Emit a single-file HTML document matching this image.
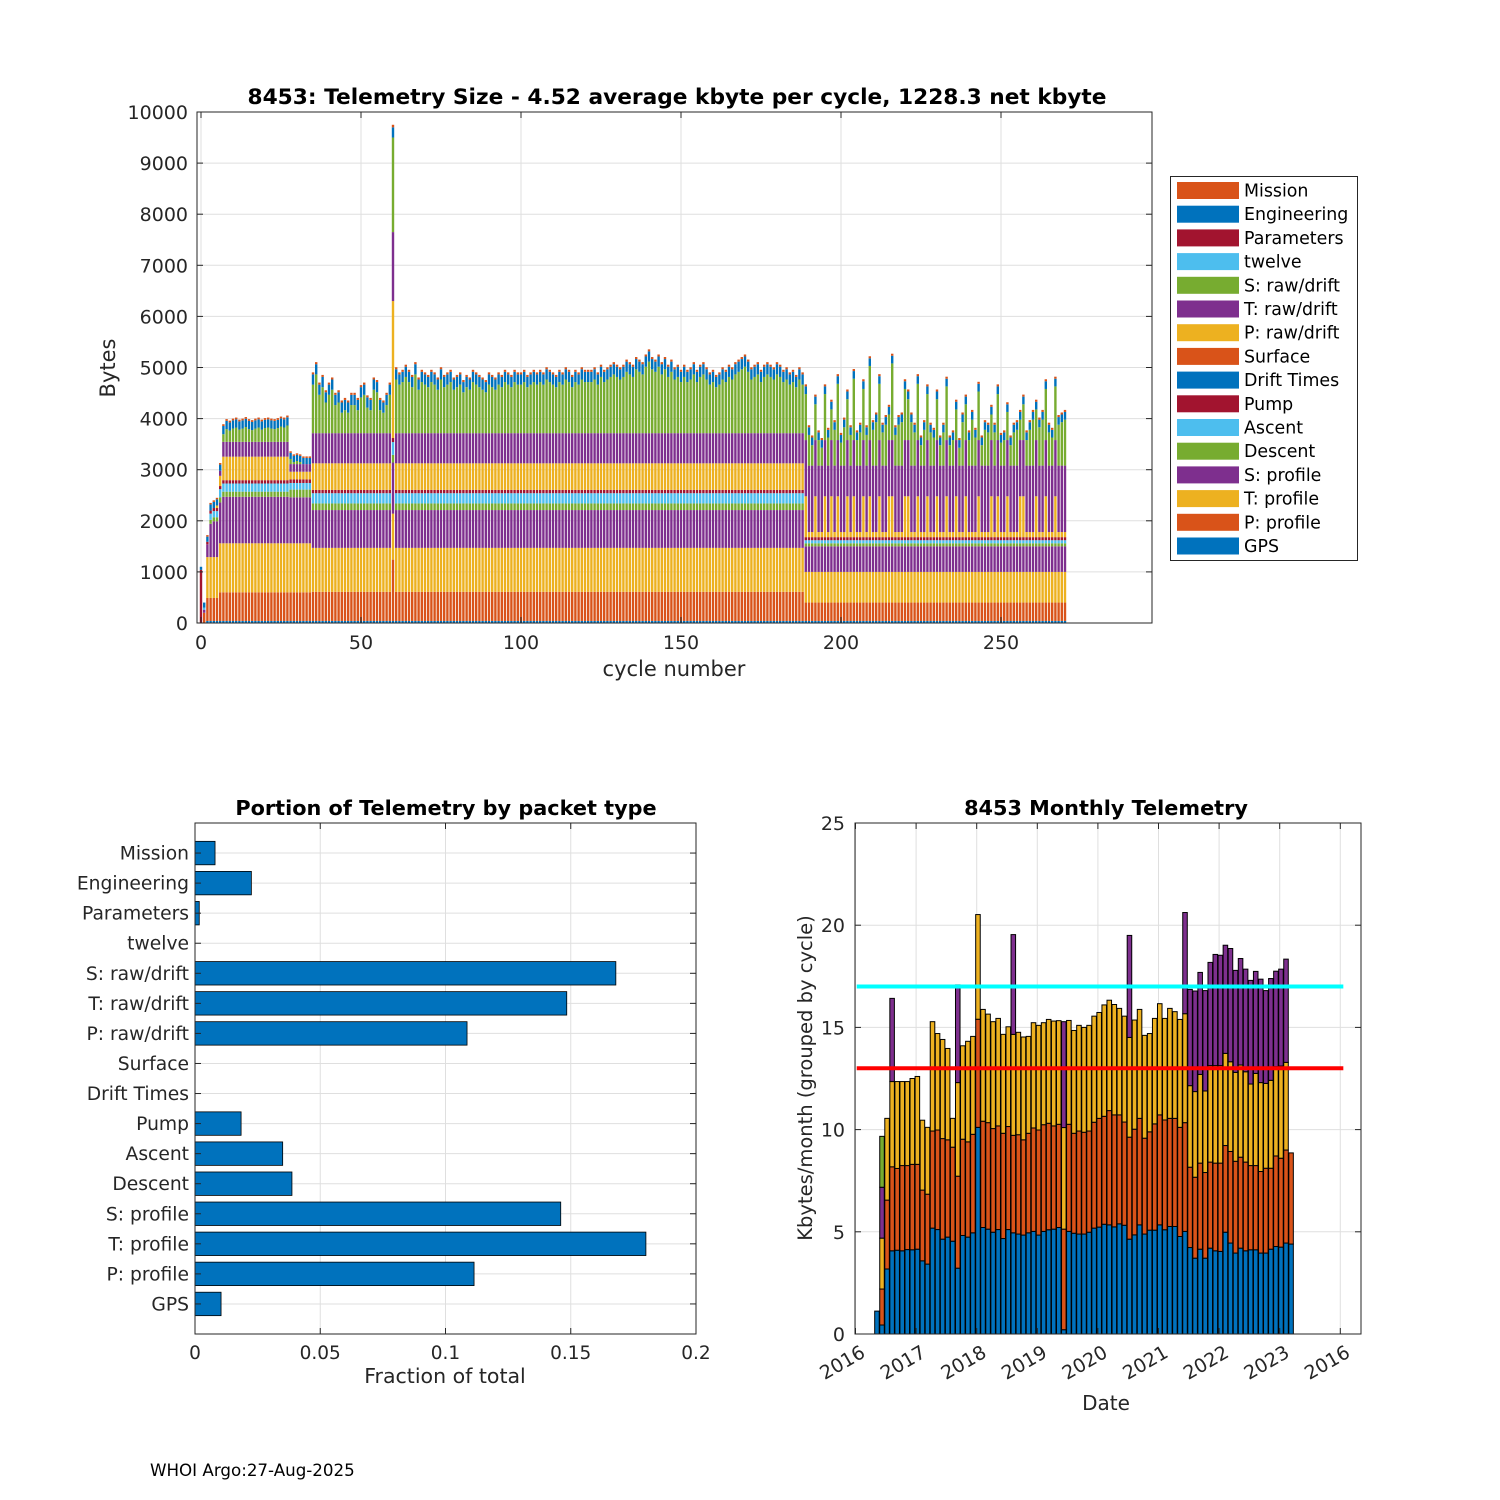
<!DOCTYPE html>
<html><head><meta charset="utf-8"><style>
html,body{margin:0;padding:0;background:#fff;}
svg{display:block;font-family:"DejaVu Sans","Liberation Sans",sans-serif;}
</style></head><body>
<svg id="fig" width="1500" height="1500" viewBox="0 0 1500 1500" xmlns="http://www.w3.org/2000/svg">
<rect width="1500" height="1500" fill="#fff"/>
<g id="top"></g>
<g id="legend"></g>
<g id="bl"></g>
<g id="br"></g>
<text x="150" y="1476" font-size="16.7" fill="#000">WHOI Argo:27-Aug-2025</text>
</svg>
<script>
// ===== Top chart data (bytes per cycle, one entry per cycle starting at 0) =====
const seriesNames = ["GPS","P: profile","T: profile","S: profile","Descent","Ascent","Pump","Drift Times","Surface","P: raw/drift","T: raw/drift","S: raw/drift","twelve","Parameters","Engineering","Mission"];
const gps = [0,0,40,40,40,40,40,
40,40,40,40,40,40,40,40,40,40, 40,40,40,40,40,40,40,40,40,40, 40,
40,40,40,40,40,40,40,
40,40,40,40,40,40,40,40,40,40, 40,40,40,40,40,40,40,40,40,40, 40,40,40,40,40,
40,
40,40,40,40,40,40,40,40,40,40, 40,40,40,40,40,40,40,40,40,40, 40,40,40,40,40,40,40,40,40,40, 40,40,40,40,40,40,40,40,40,40,
40,40,40,40,40,40,40,40,40,40, 40,40,40,40,40,40,40,40,40,40, 40,40,40,40,40,40,40,40,40,40, 40,40,40,40,40,40,40,40,40,40,
40,40,40,40,40,40,40,40,40,40, 40,40,40,40,40,40,40,40,40,40, 40,40,40,40,40,40,40,40,40,40, 40,40,40,40,40,40,40,40,40,40,
40,40,40,40,40,40,40,40,
40,40,40,40,40,40,40,40,40,40, 40,40,40,40,40,40,40,40,40,40, 40,40,40,40,40,40,40,40,40,40, 40,40,40,40,40,40,40,40,40,40,
40,40,40,40,40,40,40,40,40,40, 40,40,40,40,40,40,40,40,40,40, 40,40,40,40,40,40,40,40,40,40, 40,40,40,40,40,40,40,40,40,40, 40,40];
const pProfile = [0,200,450,450,450,450,560,
560,560,560,560,560,560,560,560,560,560, 560,560,560,560,560,560,560,560,560,560, 560,
560,560,560,560,560,560,560,
570,570,570,570,570,570,570,570,570,570, 570,570,570,570,570,570,570,570,570,570, 570,570,570,570,570,
1200,
570,570,570,570,570,570,570,570,570,570, 570,570,570,570,570,570,570,570,570,570, 570,570,570,570,570,570,570,570,570,570, 570,570,570,570,570,570,570,570,570,570,
570,570,570,570,570,570,570,570,570,570, 570,570,570,570,570,570,570,570,570,570, 570,570,570,570,570,570,570,570,570,570, 570,570,570,570,570,570,570,570,570,570,
570,570,570,570,570,570,570,570,570,570, 570,570,570,570,570,570,570,570,570,570, 570,570,570,570,570,570,570,570,570,570, 570,570,570,570,570,570,570,570,570,570,
570,570,570,570,570,570,570,570,
360,360,360,360,360,360,360,360,360,360, 360,360,360,360,360,360,360,360,360,360, 360,360,360,360,360,360,360,360,360,360, 360,360,360,360,360,360,360,360,360,360,
360,360,360,360,360,360,360,360,360,360, 360,360,360,360,360,360,360,360,360,360, 360,360,360,360,360,360,360,360,360,360, 360,360,360,360,360,360,360,360,360,360, 360,360];
const tProfile = [0,0,800,800,800,800,960,
960,960,960,960,960,960,960,960,960,960, 960,960,960,960,960,960,960,960,960,960, 960,
960,960,960,960,960,960,960,
860,860,860,860,860,860,860,860,860,860, 860,860,860,860,860,860,860,860,860,860, 860,860,860,860,860,
900,
860,860,860,860,860,860,860,860,860,860, 860,860,860,860,860,860,860,860,860,860, 860,860,860,860,860,860,860,860,860,860, 860,860,860,860,860,860,860,860,860,860,
860,860,860,860,860,860,860,860,860,860, 860,860,860,860,860,860,860,860,860,860, 860,860,860,860,860,860,860,860,860,860, 860,860,860,860,860,860,860,860,860,860,
860,860,860,860,860,860,860,860,860,860, 860,860,860,860,860,860,860,860,860,860, 860,860,860,860,860,860,860,860,860,860, 860,860,860,860,860,860,860,860,860,860,
860,860,860,860,860,860,860,860,
600,600,600,600,600,600,600,600,600,600, 600,600,600,600,600,600,600,600,600,600, 600,600,600,600,600,600,600,600,600,600, 600,600,600,600,600,600,600,600,600,600,
600,600,600,600,600,600,600,600,600,600, 600,600,600,600,600,600,600,600,600,600, 600,600,600,600,600,600,600,600,600,600, 600,600,600,600,600,600,600,600,600,600, 600,600];
const sProfile = [0,60,250,650,700,700,800,
910,910,910,910,910,910,910,910,910,910, 910,910,910,910,910,910,910,910,910,910, 910,
900,900,900,900,900,900,900,
740,740,740,740,740,740,740,740,740,740, 740,740,740,740,740,740,740,740,740,740, 740,740,740,740,740,
1000,
740,740,740,740,740,740,740,740,740,740, 740,740,740,740,740,740,740,740,740,740, 740,740,740,740,740,740,740,740,740,740, 740,740,740,740,740,740,740,740,740,740,
740,740,740,740,740,740,740,740,740,740, 740,740,740,740,740,740,740,740,740,740, 740,740,740,740,740,740,740,740,740,740, 740,740,740,740,740,740,740,740,740,740,
740,740,740,740,740,740,740,740,740,740, 740,740,740,740,740,740,740,740,740,740, 740,740,740,740,740,740,740,740,740,740, 740,740,740,740,740,740,740,740,740,740,
740,740,740,740,740,740,740,740,
500,500,500,500,500,500,500,500,500,500, 500,500,500,500,500,500,500,500,500,500, 500,500,500,500,500,500,500,500,500,500, 500,500,500,500,500,500,500,500,500,500,
500,500,500,500,500,500,500,500,500,500, 500,500,500,500,500,500,500,500,500,500, 500,500,500,500,500,500,500,500,500,500, 500,500,500,500,500,500,500,500,500,500, 500,500];
const descent = [0,0,0,80,80,80,100,
100,100,100,100,100,100,100,100,100,100, 100,100,100,100,100,100,100,100,100,100, 100,
150,150,150,150,150,150,150,
130,130,130,130,130,130,130,130,130,130, 130,130,130,130,130,130,130,130,130,130, 130,130,130,130,130,
150,
130,130,130,130,130,130,130,130,130,130, 130,130,130,130,130,130,130,130,130,130, 130,130,130,130,130,130,130,130,130,130, 130,130,130,130,130,130,130,130,130,130,
130,130,130,130,130,130,130,130,130,130, 130,130,130,130,130,130,130,130,130,130, 130,130,130,130,130,130,130,130,130,130, 130,130,130,130,130,130,130,130,130,130,
130,130,130,130,130,130,130,130,130,130, 130,130,130,130,130,130,130,130,130,130, 130,130,130,130,130,130,130,130,130,130, 130,130,130,130,130,130,130,130,130,130,
130,130,130,130,130,130,130,130,
60,60,60,60,60,60,60,60,60,60, 60,60,60,60,60,60,60,60,60,60, 60,60,60,60,60,60,60,60,60,60, 60,60,60,60,60,60,60,60,60,60,
60,60,60,60,60,60,60,60,60,60, 60,60,60,60,60,60,60,60,60,60, 60,60,60,60,60,60,60,60,60,60, 60,60,60,60,60,60,60,60,60,60, 60,60];
const ascent = [0,40,0,120,120,120,160,
160,160,160,160,160,160,160,160,160,160, 160,160,160,160,160,160,160,160,160,160, 160,
130,130,130,130,130,130,130,
200,200,200,200,200,200,200,200,200,200, 200,200,200,200,200,200,200,200,200,200, 200,200,200,200,200,
250,
200,200,200,200,200,200,200,200,200,200, 200,200,200,200,200,200,200,200,200,200, 200,200,200,200,200,200,200,200,200,200, 200,200,200,200,200,200,200,200,200,200,
200,200,200,200,200,200,200,200,200,200, 200,200,200,200,200,200,200,200,200,200, 200,200,200,200,200,200,200,200,200,200, 200,200,200,200,200,200,200,200,200,200,
200,200,200,200,200,200,200,200,200,200, 200,200,200,200,200,200,200,200,200,200, 200,200,200,200,200,200,200,200,200,200, 200,200,200,200,200,200,200,200,200,200,
200,200,200,200,200,200,200,200,
60,60,60,60,60,60,60,60,60,60, 60,60,60,60,60,60,60,60,60,60, 60,60,60,60,60,60,60,60,60,60, 60,60,60,60,60,60,60,60,60,60,
60,60,60,60,60,60,60,60,60,60, 60,60,60,60,60,60,60,60,60,60, 60,60,60,60,60,60,60,60,60,60, 60,60,60,60,60,60,60,60,60,60, 60,60];
const pump = [0,0,0,60,60,60,60,
65,65,65,65,65,65,65,65,65,65, 65,65,65,65,65,65,65,65,65,65, 65,
70,70,70,70,70,70,70,
65,65,65,65,65,65,65,65,65,65, 65,65,65,65,65,65,65,65,65,65, 65,65,65,65,65,
80,
65,65,65,65,65,65,65,65,65,65, 65,65,65,65,65,65,65,65,65,65, 65,65,65,65,65,65,65,65,65,65, 65,65,65,65,65,65,65,65,65,65,
65,65,65,65,65,65,65,65,65,65, 65,65,65,65,65,65,65,65,65,65, 65,65,65,65,65,65,65,65,65,65, 65,65,65,65,65,65,65,65,65,65,
65,65,65,65,65,65,65,65,65,65, 65,65,65,65,65,65,65,65,65,65, 65,65,65,65,65,65,65,65,65,65, 65,65,65,65,65,65,65,65,65,65,
65,65,65,65,65,65,65,65,
60,60,60,60,60,60,60,60,60,60, 60,60,60,60,60,60,60,60,60,60, 60,60,60,60,60,60,60,60,60,60, 60,60,60,60,60,60,60,60,60,60,
60,60,60,60,60,60,60,60,60,60, 60,60,60,60,60,60,60,60,60,60, 60,60,60,60,60,60,60,60,60,60, 60,60,60,60,60,60,60,60,60,60, 60,60];
const driftTimes = [];
const surface = [];
const pRaw = [0,0,0,0,0,50,200,
460,460,460,460,460,460,460,460,460,460, 460,460,460,460,460,460,460,460,460,460, 460,
150,150,150,150,150,150,150,
520,520,520,520,520,520,520,520,520,520, 520,520,520,520,520,520,520,520,520,520, 520,520,520,520,520,
2680,
520,520,520,520,520,520,520,520,520,520, 520,520,520,520,520,520,520,520,520,520, 520,520,520,520,520,520,520,520,520,520, 520,520,520,520,520,520,520,520,520,520,
520,520,520,520,520,520,520,520,520,520, 520,520,520,520,520,520,520,520,520,520, 520,520,520,520,520,520,520,520,520,520, 520,520,520,520,520,520,520,520,520,520,
520,520,520,520,520,520,520,520,520,520, 520,520,520,520,520,520,520,520,520,520, 520,520,520,520,520,520,520,520,520,520, 520,520,520,520,520,520,520,520,520,520,
520,520,520,520,520,520,520,520,
800,100,100,800,100,100,800,100,800,100, 800,100,100,800,100,800,100,100,800,100,
800,100,100,800,100,100,800,800,100,100, 100,800,800,100,100,800,100,100,800,100,
100,800,100,100,800,100,100,800,100,100, 800,100,100,100,800,100,100,100,800,100,
800,100,100,800,100,100,100,800,800,100, 100,100,800,100,100,800,100,100,800,100, 100,100];
const tRaw = [0,0,0,0,0,0,100,
290,290,290,290,290,290,290,290,290,290, 290,290,290,290,290,290,290,290,290,290, 290,
150,150,150,150,150,150,150,
590,590,590,590,590,590,590,590,590,590, 590,590,590,590,590,590,590,590,590,590, 590,590,590,590,590,
1350,
590,590,590,590,590,590,590,590,590,590, 590,590,590,590,590,590,590,590,590,590, 590,590,590,590,590,590,590,590,590,590, 590,590,590,590,590,590,590,590,590,590,
590,590,590,590,590,590,590,590,590,590, 590,590,590,590,590,590,590,590,590,590, 590,590,590,590,590,590,590,590,590,590, 590,590,590,590,590,590,590,590,590,590,
590,590,590,590,590,590,590,590,590,590, 590,590,590,590,590,590,590,590,590,590, 590,590,590,590,590,590,590,590,590,590, 590,590,590,590,590,590,590,590,590,590,
590,590,590,590,590,590,590,590,
1100,1300,1300,1100,1300,1300,1100,1300,1100,1300, 1100,1300,1300,1100,1300,1100,1300,1300,1100,1300,
1100,1300,1300,1100,1300,1300,1100,1100,1300,1300, 1300,1100,1100,1300,1300,1100,1300,1300,1100,1300,
1300,1100,1300,1300,1100,1300,1300,1100,1300,1300, 1100,1300,1300,1300,1100,1300,1300,1300,1100,1300,
1100,1300,1300,1100,1300,1300,1300,1100,1100,1300, 1300,1300,1100,1300,1300,1100,1300,1300,1100,1300, 1300,1300];
const sRaw = [0,0,0,0,0,0,0,
150,250,220,260,280,240,260,290,250,230, 260,280,240,270,280,260,250,270,300,280, 320,
100,40,60,40,0,0,0,
950,1150,750,900,600,750,850,550,600,400, 450,400,550,550,450,700,750,500,450,850, 800,450,400,550,750,
1850,
1050,950,1000,1100,1000,900,1150,850,1000,950, 900,1000,950,850,1050,900,950,1000,850,900,
950,800,900,850,1000,950,900,850,800,950, 900,850,950,900,1000,950,900,1000,950,950,
1000,900,950,1000,950,1000,950,1050,1000,950, 900,1000,950,1050,1000,900,1000,950,1050,1000,
1000,1000,1050,950,1100,1000,1050,1100,1150,1100, 1050,1100,1200,1150,1100,1250,1200,1150,1300,1400,
1250,1200,1300,1150,1250,1100,1200,1050,1100,1000, 1100,1000,1050,1150,1000,1100,1150,1050,950,1000,
900,950,1050,1000,1100,1050,1150,1200,1250,1300, 1200,1050,1100,1150,1000,1100,1150,1100,1050,1150,
1100,1000,1050,950,1000,900,1050,950,
900,600,400,700,500,350,900,550,600,700, 1100,450,750,800,600,1200,500,650,1000,600,
1450,700,850,1100,650,800,500,1500,600,800, 850,1000,800,850,650,1100,400,700,900,650,
550,800,400,650,1050,400,500,600,350,850, 700,500,900,550,950,400,700,650,500,650,
900,450,500,550,400,650,700,400,700,500, 700,900,600,750,900,1000,650,550,1050,800, 850,900];
const twelve = [];
const parameters = [1040,0,50];
const engineering = [60,100,100,120,120,120,120,
160,160,160,160,160,160,160,160,160,160, 160,160,160,160,160,160,160,160,160,160, 160,
120,120,120,120,120,120,120,
200,200,200,200,200,200,200,200,200,200, 200,200,200,200,200,200,200,200,200,200, 200,200,200,200,200,
200,
200,200,200,200,200,200,200,200,200,200, 200,200,200,200,200,200,200,200,200,200, 200,200,200,200,200,200,200,200,200,200, 200,200,200,200,200,200,200,200,200,200,
200,200,200,200,200,200,200,200,200,200, 200,200,200,200,200,200,200,200,200,200, 200,200,200,200,200,200,200,200,200,200, 200,200,200,200,200,200,200,200,200,200,
200,200,200,200,200,200,200,200,200,200, 200,200,200,200,200,200,200,200,200,200, 200,200,200,200,200,200,200,200,200,200, 200,200,200,200,200,200,200,200,200,200,
200,200,200,200,200,200,200,200,
150,150,150,150,150,150,150,150,150,150, 150,150,150,150,150,150,150,150,150,150, 150,150,150,150,150,150,150,150,150,150, 150,150,150,150,150,150,150,150,150,150,
150,150,150,150,150,150,150,150,150,150, 150,150,150,150,150,150,150,150,150,150, 150,150,150,150,150,150,150,150,150,150, 150,150,150,150,150,150,150,150,150,150, 150,150];
const mission = [0,0,30,30,30,30,30,
35,35,35,35,35,35,35,35,35,35, 35,35,35,35,35,35,35,35,35,35, 35,
30,30,30,30,30,30,30,
40,40,40,40,40,40,40,40,40,40, 40,40,40,40,40,40,40,40,40,40, 40,40,40,40,40,
50,
40,40,40,40,40,40,40,40,40,40, 40,40,40,40,40,40,40,40,40,40, 40,40,40,40,40,40,40,40,40,40, 40,40,40,40,40,40,40,40,40,40,
40,40,40,40,40,40,40,40,40,40, 40,40,40,40,40,40,40,40,40,40, 40,40,40,40,40,40,40,40,40,40, 40,40,40,40,40,40,40,40,40,40,
40,40,40,40,40,40,40,40,40,40, 40,40,40,40,40,40,40,40,40,40, 40,40,40,40,40,40,40,40,40,40, 40,40,40,40,40,40,40,40,40,40,
40,40,40,40,40,40,40,40,
40,40,40,40,40,40,40,40,40,40, 40,40,40,40,40,40,40,40,40,40, 40,40,40,40,40,40,40,40,40,40, 40,40,40,40,40,40,40,40,40,40,
40,40,40,40,40,40,40,40,40,40, 40,40,40,40,40,40,40,40,40,40, 40,40,40,40,40,40,40,40,40,40, 40,40,40,40,40,40,40,40,40,40, 40,40];
const topXTicks = [0,50,100,150,200,250];
const topYTicks = [0,1000,2000,3000,4000,5000,6000,7000,8000,9000,10000];

// ===== Bottom-left data =====
const packetLabels = ["Mission","Engineering","Parameters","twelve","S: raw/drift","T: raw/drift","P: raw/drift","Surface","Drift Times","Pump","Ascent","Descent","S: profile","T: profile","P: profile","GPS"];
const packetFractions = [0.008,0.0225,0.0017,0,0.168,0.1484,0.1086,0,0,0.0184,0.035,0.0387,0.146,0.18,0.1114,0.0104];
const fracTicks = [0,0.05,0.1,0.15,0.2];
const fracTickLabels = ["0","0.05","0.1","0.15","0.2"];

// ===== Bottom-right data (kbytes per month, stacked) =====
const monthStartYear = 2016, monthStartIndex = 4; // first bar = May 2016
const mBlue = [1.12,0.44,3.18,4.07,4.10,4.07,4.13,4.12,4.15,3.58, 3.42,5.18,5.11,4.64,4.74,4.54,3.22,4.82,4.74,4.95, 10.11,5.21,5.13,4.98,5.11,4.67,5.11,4.95,4.89,4.84, 4.95,5.02,4.84,5.02,5.10,5.13,5.21,0.21,5.02,4.93, 4.89,4.89,4.98,5.18,5.23,5.37,5.34,5.24,5.39,5.32, 4.64,4.85,5.34,4.89,5.08,5.08,5.34,5.10,5.26,5.26, 4.77,5.02,4.23,3.71,4.15,3.71,4.20,4.07,4.04,4.98, 4.45,3.96,4.20,4.07,4.12,4.12,3.96,3.96,4.15,4.28, 4.25,4.45,4.40];
const mOrange = [0,1.76,3.37,4.11,4.00,4.17,4.11,4.18,4.15,3.46, 3.42,4.75,4.87,4.92,4.76,4.60,4.50,4.71,4.66,4.82, 5.29,5.20,5.21,5.07,5.07,5.15,5.04,4.77,4.86,4.66, 4.87,5.06,5.14,5.22,5.21,5.05,5.05,4.92,5.24,4.89, 5.04,4.98,4.95,5.18,5.32,5.28,5.59,5.48,5.33,5.05, 4.99,5.17,5.21,4.69,4.81,5.20,5.38,5.37,5.29,5.29, 5.34,5.32,3.93,3.96,4.21,4.19,4.21,4.29,4.32,4.24, 4.48,4.49,4.45,4.34,4.12,4.12,3.99,4.15,3.96,4.43, 4.35,4.55,4.46];
const mYellow = [0,2.49,4.00,4.17,4.25,4.11,4.11,4.20,4.30,3.42, 3.27,5.35,4.72,4.85,4.47,1.41,4.58,4.57,4.92,4.79, 5.12,5.47,5.31,5.23,5.26,4.84,4.88,4.94,5.01,5.03, 4.74,5.15,5.12,4.99,5.08,5.13,5.07,4.97,5.08,5.03, 5.17,5.13,5.17,5.19,5.18,5.45,5.40,5.40,5.21,5.18, 4.88,5.34,5.33,5.03,4.81,5.16,5.44,4.97,5.38,5.22, 5.28,5.33,3.99,4.19,4.34,3.99,4.72,4.77,4.77,4.51, 4.39,4.35,4.51,4.42,3.99,4.51,4.35,4.15,4.30,4.37, 4.51,4.29,0];
const mPurple = [0,2.49,0,4.07,0,0,0,0,0,0, 0,0,0,0,0,0,4.78,0,0,0, 0,0,0,0,0,0,0,4.88,0,0, 0,0,0,0,0,0,0,5.18,0,0, 0,0,0,0,0,0,0,0,0,0, 4.99,0,0,0,0,0,0,0,0,0, 0,4.95,4.71,4.92,4.99,4.91,5.05,5.44,5.40,5.29, 5.54,4.99,5.21,5.02,5.07,4.99,5.06,4.54,4.98,4.67, 4.74,5.05,0];
const mGreen = [0,2.49];
const refLines = [13,17];
const yearTicks = [2016,2017,2018,2019,2020,2021,2022,2023,2024];
const yearTickLabels = ["2016","2017","2018","2019","2020","2021","2022","2023","2016"];
const monthYTicks = [0,5,10,15,20,25];

const NS = "http://www.w3.org/2000/svg";
function mk(tag, attrs, parent){const e=document.createElementNS(NS,tag);for(const k in attrs)e.setAttribute(k,attrs[k]);parent.appendChild(e);return e;}
const FG="#262626", GRID="#dfdfdf";

// ================= TOP CHART =================
(function(){
  const g=document.getElementById('top');
  const L=197,R=1152,T=112,B=623;
  const xs=c=>201+3.2*c, ys=v=>B-(v/10000)*(B-T);
  const series=[gps,pProfile,tProfile,sProfile,descent,ascent,pump,driftTimes,surface,pRaw,tRaw,sRaw,twelve,parameters,engineering,mission];
  const colors=["#0072BD","#D95319","#EDB120","#7E2F8E","#77AC30","#4DBEEE","#A2142F","#0072BD","#D95319","#EDB120","#7E2F8E","#77AC30","#4DBEEE","#A2142F","#0072BD","#D95319"];
  mk('rect',{x:L,y:T,width:R-L,height:B-T,fill:'#fff'},g);
  topYTicks.forEach(v=>{const l=mk('line',{x1:L,x2:R,y1:ys(v),y2:ys(v),stroke:GRID,'stroke-width':1},g);
    
    });
  topXTicks.forEach(v=>{const l=mk('line',{x1:xs(v),x2:xs(v),y1:T,y2:B,stroke:GRID,'stroke-width':1},g);
    
    });
  const n=Math.max(...series.map(s=>s.length));
  const bw=2.4;
  for(let c=0;c<n;c++){
    let acc=0;
    series.forEach((s,k)=>{const v=s[c]||0; if(v<=0)return;
      const r=mk('rect',{x:xs(c)-bw/2,y:ys(acc+v),width:bw,height:ys(acc)-ys(acc+v),fill:colors[k]},g);
      
      
      acc+=v;});
  }
  mk('rect',{x:L,y:T,width:R-L,height:B-T,fill:'none',stroke:FG,'stroke-width':1},g);
  topYTicks.forEach(v=>{
    mk('line',{x1:L,x2:L+6,y1:ys(v),y2:ys(v),stroke:FG},g);
    mk('line',{x1:R,x2:R-6,y1:ys(v),y2:ys(v),stroke:FG},g);
    const t=mk('text',{x:L-9,y:ys(v)+7,'text-anchor':'end','font-size':19,fill:FG},g);t.textContent=v;
    
    });
  topXTicks.forEach(v=>{
    mk('line',{x1:xs(v),x2:xs(v),y1:B,y2:B-6,stroke:FG},g);
    mk('line',{x1:xs(v),x2:xs(v),y1:T,y2:T+6,stroke:FG},g);
    const t=mk('text',{x:xs(v),y:B+26,'text-anchor':'middle','font-size':19,fill:FG},g);t.textContent=v;
    
    });
  let t=mk('text',{x:674,y:676,'text-anchor':'middle','font-size':21,fill:FG},g);t.textContent='cycle number';
  
  
  t=mk('text',{x:0,y:0,'text-anchor':'middle','font-size':21,fill:FG,transform:'translate(115,368) rotate(-90)'},g);t.textContent='Bytes';
  
  
  t=mk('text',{x:677,y:104,'text-anchor':'middle','font-size':21.7,'font-weight':'bold',fill:'#000'},g);t.textContent='8453: Telemetry Size - 4.52 average kbyte per cycle, 1228.3 net kbyte';
  
  

  // legend
  const lg=document.getElementById('legend');
  mk('rect',{x:1170.5,y:176.5,width:187,height:384,fill:'#fff',stroke:FG,'stroke-width':1},lg);
  for(let i=0;i<16;i++){
    const k=15-i; const y=190.5+i*23.7;
    const it=mk('g',{},lg);
    
    
    mk('rect',{x:1177,y:y-8.5,width:62,height:17,fill:colors[k]},it);
    const tx=mk('text',{x:1244,y:y+6,'font-size':17.4,fill:'#000'},it);tx.textContent=seriesNames[k];
  }
})();

// ================= BOTTOM LEFT =================
(function(){
  const g=document.getElementById('bl');
  const L=195,R=696,T=823,B=1334;
  const xs=v=>L+(v/0.2)*(R-L);
  const rowH=(B-T)/(packetLabels.length+1);
  const yc=i=>T+rowH*(i+1);
  fracTicks.forEach(v=>{const l=mk('line',{x1:xs(v),x2:xs(v),y1:T,y2:B,stroke:GRID},g);
    
    });
  packetLabels.forEach((_,i)=>{const l=mk('line',{x1:L,x2:R,y1:yc(i),y2:yc(i),stroke:GRID},g);
    
    });
  packetFractions.forEach((v,i)=>{ if(v<=0)return;
    const r=mk('rect',{x:L,y:yc(i)-rowH*0.39,width:xs(v)-L,height:rowH*0.78,fill:'#0072BD',stroke:'#000','stroke-width':0.8},g);
    
    });
  mk('rect',{x:L,y:T,width:R-L,height:B-T,fill:'none',stroke:FG},g);
  packetLabels.forEach((s,i)=>{
    mk('line',{x1:L,x2:L+6,y1:yc(i),y2:yc(i),stroke:FG},g);
    mk('line',{x1:R,x2:R-6,y1:yc(i),y2:yc(i),stroke:FG},g);
    const t=mk('text',{x:L-6,y:yc(i)+6.5,'text-anchor':'end','font-size':18.7,fill:FG},g);t.textContent=s;
    
    });
  fracTicks.forEach((v,i)=>{
    mk('line',{x1:xs(v),x2:xs(v),y1:B,y2:B-6,stroke:FG},g);
    mk('line',{x1:xs(v),x2:xs(v),y1:T,y2:T+6,stroke:FG},g);
    const t=mk('text',{x:xs(v),y:B+25,'text-anchor':'middle','font-size':18.5,fill:FG},g);t.textContent=fracTickLabels[i];
    
    });
  let t=mk('text',{x:445,y:1383,'text-anchor':'middle','font-size':20.5,fill:FG},g);t.textContent='Fraction of total';
  
  
  t=mk('text',{x:446,y:815,'text-anchor':'middle','font-size':20.8,'font-weight':'bold',fill:'#000'},g);t.textContent='Portion of Telemetry by packet type';
  
  
})();

// ================= BOTTOM RIGHT =================
(function(){
  const g=document.getElementById('br');
  const L=855,R=1361,T=823,B=1334;
  const yr0=855.5, ypx=60.6;
  const xs=yr=>yr0+(yr-2016)*ypx, ys=v=>B-(v/25)*(B-T);
  monthYTicks.forEach(v=>{const l=mk('line',{x1:L,x2:R,y1:ys(v),y2:ys(v),stroke:GRID},g);
    
    });
  yearTicks.forEach(v=>{const l=mk('line',{x1:xs(v),x2:xs(v),y1:T,y2:B,stroke:GRID},g);
    
    });
  const layers=[mBlue,mOrange,mYellow,mPurple,mGreen];
  const cols=["#0072BD","#D95319","#EDB120","#7E2F8E","#77AC30"];
  const n=mBlue.length, bw=ypx/12*0.9;
  for(let i=0;i<n;i++){
    const yr=monthStartYear+(monthStartIndex+0.25+i)/12;
    let acc=0;
    layers.forEach((arr,k)=>{const v=arr[i]||0; if(v<=0)return;
      const r=mk('rect',{x:xs(yr)-bw/2,y:ys(acc+v),width:bw,height:ys(acc)-ys(acc+v),fill:cols[k],stroke:'#000','stroke-width':1},g);
      
      
      acc+=v;});
  }
  const refCols=["#FF0000","#00FFFF"];
  refLines.forEach((v,i)=>{const l=mk('line',{x1:xs(2016.02),x2:xs(2024.05),y1:ys(v),y2:ys(v),stroke:refCols[i],'stroke-width':4},g);
    
    });
  mk('rect',{x:L,y:T,width:R-L,height:B-T,fill:'none',stroke:FG},g);
  monthYTicks.forEach(v=>{
    mk('line',{x1:L,x2:L+6,y1:ys(v),y2:ys(v),stroke:FG},g);
    mk('line',{x1:R,x2:R-6,y1:ys(v),y2:ys(v),stroke:FG},g);
    const t=mk('text',{x:L-10,y:ys(v)+7,'text-anchor':'end','font-size':19,fill:FG},g);t.textContent=v;
    
    });
  yearTicks.forEach((v,i)=>{
    mk('line',{x1:xs(v),x2:xs(v),y1:B,y2:B-6,stroke:FG},g);
    mk('line',{x1:xs(v),x2:xs(v),y1:T,y2:T+6,stroke:FG},g);
    const t=mk('text',{x:0,y:14,'text-anchor':'end','font-size':19,fill:FG,transform:'translate('+(xs(v)+4)+','+(B+10)+') rotate(-30)'},g);t.textContent=yearTickLabels[i];
    
    });
  let t=mk('text',{x:1106,y:1410,'text-anchor':'middle','font-size':20,fill:FG},g);t.textContent='Date';
  
  
  t=mk('text',{x:0,y:0,'text-anchor':'middle','font-size':19.5,fill:FG,transform:'translate(812,1078) rotate(-90)'},g);t.textContent='Kbytes/month (grouped by cycle)';
  
  
  t=mk('text',{x:1106,y:815,'text-anchor':'middle','font-size':20.8,'font-weight':'bold',fill:'#000'},g);t.textContent='8453 Monthly Telemetry';
  
  
})();
</script>
</body></html>
